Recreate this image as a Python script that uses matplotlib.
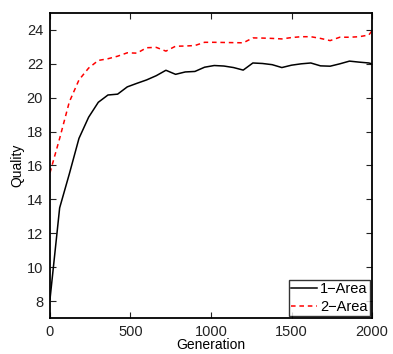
import matplotlib
matplotlib.use("Agg")
import matplotlib.pyplot as plt

plt.rcParams['font.family'] = ['Liberation Sans', 'DejaVu Sans']

generation = list(range(0, 1981, 60)) + [2000]
area1 = [8.1, 13.5, 15.5, 17.6, 18.85, 19.73, 20.16, 20.21, 20.64, 20.85,
         21.05, 21.3, 21.62, 21.38, 21.52, 21.55, 21.8, 21.9, 21.87, 21.78,
         21.63, 22.05, 22.02, 21.95, 21.78, 21.92, 22.0, 22.05, 21.88, 21.86,
         22.0, 22.16, 22.1, 22.05, 22.0]
area2 = [15.57, 17.6, 19.75, 21.05, 21.75, 22.2, 22.3, 22.45, 22.65, 22.63,
         22.95, 22.97, 22.75, 23.04, 23.05, 23.08, 23.27, 23.27, 23.26, 23.25,
         23.24, 23.53, 23.52, 23.5, 23.47, 23.55, 23.6, 23.6, 23.5, 23.37,
         23.57, 23.57, 23.6, 23.7, 23.95]
labels = ['1\u2212Area', '2\u2212Area']
xticks = [0, 500, 1000, 1500, 2000]
yticks = [8, 10, 12, 14, 16, 18, 20, 22, 24]

fig = plt.figure(figsize=(3.93, 3.54), dpi=100)
ax = fig.add_axes([0.1272, 0.1017, 0.8194, 0.8616])
ax.plot(generation, area1, color='black', lw=1.1, label=labels[0])
ax.plot(generation, area2, color='#ff0000', lw=1.1, ls=(0, (3, 2.5)), label=labels[1])
ax.set_xlim(0, 2000)
ax.set_ylim(7, 25)
ax.set_xticks(xticks)
ax.set_yticks(yticks)
ax.tick_params(direction='in', top=True, right=True, length=4, width=0.8,
               labelsize=10.5, colors='#222222', pad=5)
for s in ax.spines.values():
    s.set_linewidth(1.3)
ax.set_xlabel('Generation', fontsize=10, labelpad=-1)
ax.set_ylabel('Quality', fontsize=10, labelpad=2)
leg = ax.legend(loc='lower right', fontsize=10.5, frameon=True, fancybox=False,
                edgecolor='black', borderpad=0.15, handlelength=1.8,
                handletextpad=0.2, labelspacing=0.25, borderaxespad=0.15)
leg.get_frame().set_linewidth(1.0)
fig.savefig('out.png', dpi=100)
